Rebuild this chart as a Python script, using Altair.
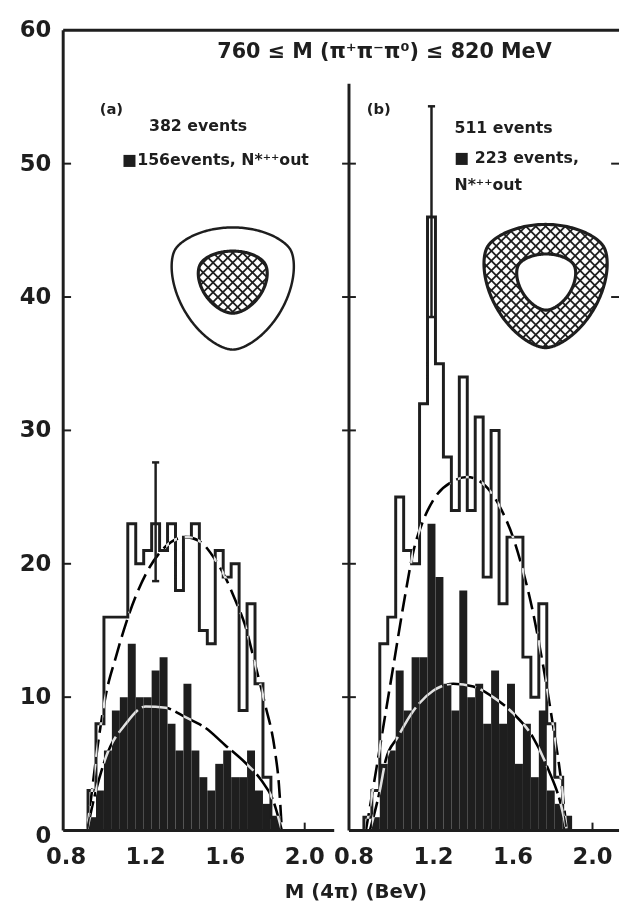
import altair as alt
import numpy as np
import pandas as pd

# ---------------- data ----------------
BIN_W = 0.04
# panel (a): 382 events (open), 156 events with N*++ out (filled)
A_LEFT = [0.91, 0.95, 0.99, 1.03, 1.07, 1.11, 1.15, 1.19, 1.23, 1.27, 1.31, 1.35,
          1.39, 1.43, 1.47, 1.51, 1.55, 1.59, 1.63, 1.67, 1.71, 1.75, 1.79, 1.83]
A_ALL = [3, 8, 16, 16, 16, 23, 20, 21, 23, 21, 23, 18, 22, 23, 15, 14, 21, 19, 20, 9, 17, 11, 4, 1]
A_OUT = [1, 3, 6, 9, 10, 14, 10, 10, 12, 13, 8, 6, 11, 6, 4, 3, 5, 6, 4, 4, 6, 3, 2, 1]
A_ERR = [1.25, 18.7, 27.6]          # x, low, high

# panel (b): 511 events (open), 223 events with N*++ out (filled)
B_LEFT = [0.85, 0.89, 0.93, 0.97, 1.01, 1.05, 1.09, 1.13, 1.17, 1.21, 1.25, 1.29, 1.33,
          1.37, 1.41, 1.45, 1.49, 1.53, 1.57, 1.61, 1.65, 1.69, 1.73, 1.77, 1.81, 1.85]
B_ALL = [1, 3, 14, 16, 25, 21, 20, 32, 46, 35, 28, 24, 34, 24, 31, 19, 30, 17, 22, 22, 13, 10, 17, 8, 4, 1]
B_OUT = [0, 1, 5, 6, 12, 9, 13, 13, 23, 19, 11, 9, 18, 10, 11, 8, 12, 8, 11, 5, 8, 4, 9, 3, 2, 1]
B_ERR = [1.19, 38.5, 54.3]

# fitted (phase-space) curves
A_FIT_ALL_X = [0.905, 0.93, 0.96, 1.00, 1.05, 1.10, 1.20, 1.30, 1.40, 1.47, 1.55, 1.60, 1.65, 1.70, 1.75, 1.80, 1.85, 1.87, 1.885]
A_FIT_ALL_Y = [0, 3, 6.5, 10.2, 13, 15.5, 19.2, 21.3, 22, 21.7, 20.3, 19, 17.3, 15.4, 12.5, 9.5, 6, 3.5, 0]
A_FIT_OUT_X = [0.905, 0.95, 1.00, 1.10, 1.20, 1.30, 1.40, 1.50, 1.60, 1.70, 1.78, 1.84, 1.885]
A_FIT_OUT_Y = [0, 3, 5.5, 8, 9.3, 9.2, 8.5, 7.7, 6.4, 5.1, 3.8, 2.3, 0]
B_FIT_ALL_X = [0.86, 0.90, 0.95, 1.00, 1.05, 1.10, 1.15, 1.20, 1.30, 1.37, 1.45, 1.55, 1.60, 1.65, 1.70, 1.75, 1.80, 1.84, 1.87]
B_FIT_ALL_Y = [0, 3.5, 8, 12.5, 17, 21, 23.3, 24.8, 26.2, 26.5, 26, 23.8, 22, 19.5, 16.4, 12.5, 8, 4, 0]
B_FIT_OUT_X = [0.88, 0.93, 0.96, 1.02, 1.10, 1.20, 1.30, 1.40, 1.50, 1.60, 1.70, 1.78, 1.84, 1.87]
B_FIT_OUT_Y = [0, 3, 5.3, 7, 9, 10.5, 11, 10.8, 10, 8.8, 7, 4.5, 2, 0]

Y_TICKS = [10, 20, 30, 40, 50, 60]
X_TICKS = [0.8, 1.2, 1.6, 2.0]
X_TICK_TEXT = ["0.8", "1.2", "1.6", "2.0"]

# ---------------- layout ----------------
H = 812
WA, WB = 278, 274
PXX = 201.7            # px per BeV
PXY = H / 60.0         # px per event
DOM_A = [0.785, 0.785 + WA / PXX]
DOM_B = [0.775, 0.775 + WB / PXX]
FONT = "DejaVu Sans"
INK = "#1e1e1e"
YS = alt.Scale(domain=[0, 60], nice=False, zero=False)

# inset diagrams: (center x [BeV], center y [events], half-size px, triangularity, x-stretch)
A_OUTER = (1.638, 41.05, 62.0, 0.09, 1.0)
A_INNER = (1.638, 41.28, 31.5, 0.07, 1.11)
B_OUTER = (1.764, 41.24, 62.5, 0.09, 1.0)
B_HOLE = (1.767, 41.29, 28.5, 0.08, 1.05)


def shape_df(c, n=360):
    cx, cy, R, a, sx = c
    th = np.linspace(0, 2 * np.pi, n + 1)
    h = R * (1 + a * np.sin(3 * th))
    hp = 3 * a * R * np.cos(3 * th)
    px = h * np.cos(th) - hp * np.sin(th)
    py = h * np.sin(th) + hp * np.cos(th)
    return pd.DataFrame({"x": cx + sx * px / PXX, "y": cy + py / PXY, "i": np.arange(n + 1)})


_TH = np.linspace(0, 2 * np.pi, 240, endpoint=False)


def inside(c, X, Y):
    cx, cy, R, a, sx = c
    dx = (X - cx * PXX) / sx
    dy = Y - cy * PXY
    h = R * (1 + a * np.sin(3 * _TH))
    proj = dx[:, None] * np.cos(_TH)[None, :] + dy[:, None] * np.sin(_TH)[None, :] - h[None, :]
    return proj.max(axis=1) < 0


def hatch(region, center, span=75, step=10.0):
    cX, cY = center[0] * PXX, center[1] * PXY
    t = np.arange(-span, span, 0.4)
    segs = []
    for sgn in (1, -1):
        for c in np.arange(-1.5 * span + step / 2, 1.5 * span, step):
            X = cX + t
            Y = cY + sgn * t + c
            m = region(X, Y).astype(int)
            idx = np.flatnonzero(np.diff(np.concatenate([[0], m, [0]])))
            for s, e in zip(idx[::2], idx[1::2]):
                segs.append((X[s] / PXX, Y[s] / PXY, X[e - 1] / PXX, Y[e - 1] / PXY))
    return pd.DataFrame(segs, columns=["x", "y", "x2", "y2"])


ONE = pd.DataFrame({"a": [0]})


def txt(s, x, y, size, align="left"):
    return alt.Chart(ONE).mark_text(text=s, font=FONT, fontWeight="bold", fontSize=size,
                                    align=align, baseline="middle", color=INK).encode(
        x=alt.value(x), y=alt.value(y))


def prule(x=None, x2=None, y=None, y2=None, sw=2.5, color=INK):
    enc = {}
    if x is not None:
        enc["x"] = alt.value(x)
    if x2 is not None:
        enc["x2"] = alt.value(x2)
    if y is not None:
        enc["y"] = alt.value(y)
    if y2 is not None:
        enc["y2"] = alt.value(y2)
    return alt.Chart(ONE).mark_rule(color=color, strokeWidth=sw).encode(**enc)


def panel(left, allv, outv, err, curves, dom, W, is_left):
    xsc = alt.Scale(domain=dom, nice=False, zero=False)

    def X(f):
        return alt.X(f, type="quantitative", scale=xsc, axis=None)

    def Y(f):
        return alt.Y(f, type="quantitative", scale=YS, axis=None)

    L = []
    # filled histogram
    fdf = pd.DataFrame({"x0": left, "x1": [v + BIN_W for v in left], "v": outv, "z": 0})
    L.append(alt.Chart(fdf).mark_rect(color=INK).encode(x=X("x0"), x2="x1", y=Y("v"), y2="z"))
    # open histogram outline
    px = [left[0]] + list(left) + [left[-1] + BIN_W]
    py = [0] + list(allv) + [0]
    odf = pd.DataFrame({"x": px, "y": py, "i": list(range(len(px)))})
    L.append(alt.Chart(odf).mark_line(color=INK, strokeWidth=3, interpolate="step-after",
                                      strokeJoin="miter").encode(x=X("x"), y=Y("y"), order="i:Q"))
    # fitted curves (white over black, black over white)
    for cx, cy, dash in curves:
        cdf = pd.DataFrame({"x": cx, "y": cy})
        L.append(alt.Chart(cdf).mark_line(color="white", blend="difference", strokeWidth=2.6,
                                          strokeDash=dash, interpolate="monotone").encode(
            x=X("x"), y=Y("y")))
    # error bar
    edf = pd.DataFrame({"x": [err[0]], "lo": [err[1]], "hi": [err[2]],
                        "xa": [err[0] - 0.018], "xb": [err[0] + 0.018]})
    L.append(alt.Chart(edf).mark_rule(color=INK, strokeWidth=2.5).encode(x=X("x"), y=Y("lo"), y2="hi"))
    L.append(alt.Chart(edf).mark_rule(color=INK, strokeWidth=2.5).encode(x=X("xa"), x2="xb", y=Y("hi")))
    L.append(alt.Chart(edf).mark_rule(color=INK, strokeWidth=2.5).encode(x=X("xa"), x2="xb", y=Y("lo")))

    # frame / ticks
    ytk = pd.DataFrame({"t": Y_TICKS[:-1]})
    xtk = pd.DataFrame({"t": X_TICKS[1:]})
    L.append(prule(x=0, x2=W + (12 if is_left else 0), y=0, sw=3))       # top border
    L.append(prule(x=0, x2=W - (3 if is_left else 0), y=H, sw=3))        # baseline
    L.append(alt.Chart(xtk).mark_rule(color=INK, strokeWidth=2).encode(
        x=X("t"), y=alt.value(H), y2=alt.value(H - 8)))
    if is_left:
        L.append(prule(x=0, y=0, y2=H, sw=3))
        L.append(alt.Chart(ytk).mark_rule(color=INK, strokeWidth=2).encode(
            x=alt.value(0), x2=alt.value(8), y=Y("t")))
        ylab = pd.DataFrame({"t": Y_TICKS, "s": [str(v) for v in Y_TICKS]})
        L.append(alt.Chart(ylab).mark_text(font=FONT, fontWeight="bold", fontSize=23, align="right",
                                           baseline="middle", color=INK).encode(
            x=alt.value(-12), y=Y("t"), text="s:N"))
        L.append(txt("0", -20, H + 6, 23, "center"))
        # invisible anchor to fix the outer margin
        L.append(prule(x=-55, y=-15, y2=-5, sw=1, color="white"))
    else:
        vdf = pd.DataFrame({"top": [56.0], "bot": [0.0]})
        L.append(alt.Chart(vdf).mark_rule(color=INK, strokeWidth=3).encode(
            x=alt.value(0), y=Y("top"), y2="bot"))
        L.append(alt.Chart(ytk).mark_rule(color=INK, strokeWidth=2).encode(
            x=alt.value(-7), x2=alt.value(7), y=Y("t")))
        rtk = pd.DataFrame({"t": [40, 50]})
        L.append(alt.Chart(rtk).mark_rule(color=INK, strokeWidth=2).encode(
            x=alt.value(W - 8), x2=alt.value(W), y=Y("t")))
    xlab = pd.DataFrame({"t": X_TICKS, "s": X_TICK_TEXT})
    L.append(alt.Chart(xlab).mark_text(font=FONT, fontWeight="bold", fontSize=23, align="center",
                                       baseline="middle", color=INK).encode(
        x=X("t"), y=alt.value(H + 27), text="s:N"))

    # inset diagrams
    if is_left:
        hdf = hatch(lambda Xp, Yp: inside(A_INNER, Xp, Yp), A_INNER, span=45)
        L.append(alt.Chart(hdf).mark_rule(color=INK, strokeWidth=1.8).encode(
            x=X("x"), y=Y("y"), x2="x2", y2="y2"))
        L.append(alt.Chart(shape_df(A_OUTER)).mark_line(color=INK, strokeWidth=2.5).encode(
            x=X("x"), y=Y("y"), order="i:Q"))
        L.append(alt.Chart(shape_df(A_INNER)).mark_line(color=INK, strokeWidth=3.2).encode(
            x=X("x"), y=Y("y"), order="i:Q"))
    else:
        hdf = hatch(lambda Xp, Yp: inside(B_OUTER, Xp, Yp) & ~inside(B_HOLE, Xp, Yp), B_OUTER, span=80)
        L.append(alt.Chart(hdf).mark_rule(color=INK, strokeWidth=1.8).encode(
            x=X("x"), y=Y("y"), x2="x2", y2="y2"))
        L.append(alt.Chart(shape_df(B_OUTER)).mark_line(color=INK, strokeWidth=3.2).encode(
            x=X("x"), y=Y("y"), order="i:Q"))
        L.append(alt.Chart(shape_df(B_HOLE)).mark_line(color=INK, strokeWidth=3.2).encode(
            x=X("x"), y=Y("y"), order="i:Q"))

    # annotations
    if is_left:
        L.append(txt("760 ≤ M (π⁺π⁻π⁰) ≤ 820 MeV", 326, 22, 21, "center"))
        L.append(txt("M (4π) (BeV)", 297, 874, 20, "center"))
        L.append(txt("(a)", 37, 80, 15))
        L.append(txt("382 events", 87, 97, 16))
        L.append(txt("■156events, N*⁺⁺out", 60, 132, 16))
    else:
        L.append(txt("(b)", 18, 80, 15))
        L.append(txt("511 events", 107, 99, 16))
        L.append(txt("■ 223 events,", 107, 130, 16))
        L.append(txt("N*⁺⁺out", 107, 157, 16))

    return alt.layer(*L).properties(width=W, height=H)


pa = panel(A_LEFT, A_ALL, A_OUT, A_ERR,
           [(A_FIT_ALL_X, A_FIT_ALL_Y, [18, 7]), (A_FIT_OUT_X, A_FIT_OUT_Y, [30, 5])],
           DOM_A, WA, True)
pb = panel(B_LEFT, B_ALL, B_OUT, B_ERR,
           [(B_FIT_ALL_X, B_FIT_ALL_Y, [18, 7]), (B_FIT_OUT_X, B_FIT_OUT_Y, [30, 5])],
           DOM_B, WB, False)

chart = (alt.hconcat(pa, pb, spacing=12, bounds="flush")
         .resolve_scale(x="independent", y="independent")
         .properties(padding=0, background="white")
         .configure_view(strokeWidth=0))

chart.save("out.html", embed_options={"renderer": "svg", "actions": False})
